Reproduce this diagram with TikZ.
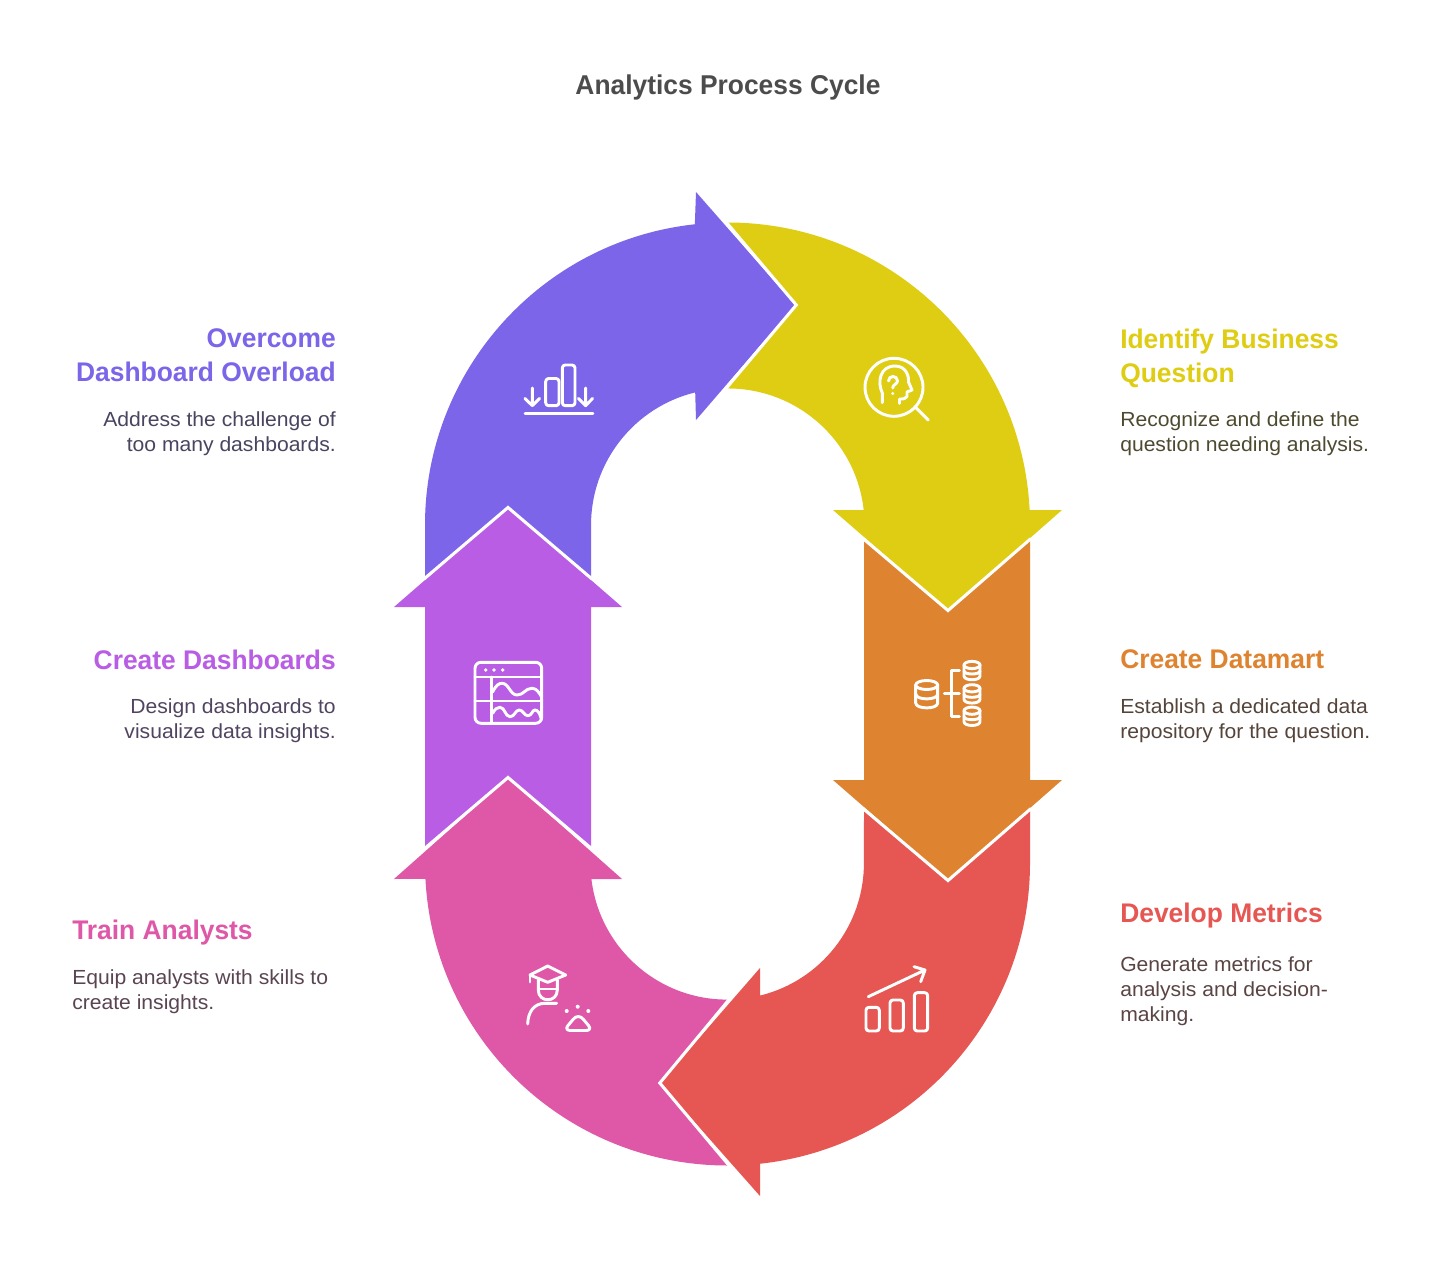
\documentclass[tikz,border=0pt]{standalone}
\usepackage{fontspec}
\setmainfont{Liberation Sans}
\newfontfamily\hfont[FakeStretch=0.98]{Liberation Sans}
\newfontfamily\tfont[FakeStretch=0.97]{Liberation Sans}
\newfontfamily\bfont[FakeStretch=1.035]{Liberation Sans}
\definecolor{cpurple}{HTML}{7C65E9}
\definecolor{cyellow}{HTML}{DFCD13}
\definecolor{corange}{HTML}{DE8330}
\definecolor{cred}{HTML}{E65652}
\definecolor{cpink}{HTML}{DF58A8}
\definecolor{cviolet}{HTML}{B95DE4}
\definecolor{tpurple}{HTML}{4A4460}
\definecolor{tyellow}{HTML}{4E4A30}
\definecolor{torange}{HTML}{55443A}
\definecolor{tred}{HTML}{5A4444}
\definecolor{tpink}{HTML}{5A4452}
\definecolor{tviolet}{HTML}{514460}
\tikzset{
 seg/.style={fill=#1,draw=none},
 gap/.style={draw=white,line width=2.3pt,line join=miter,line cap=butt},
 ico/.style={draw=white,line width=2.2pt,line cap=round,line join=round},
 dotm/.style={fill=white,draw=none},
 head/.style={font=\hfont\fontsize{20.2}{25.5}\selectfont\bfseries,inner sep=0pt,text=#1},
 body/.style={font=\bfont\fontsize{15.3}{18.9}\selectfont,inner sep=0pt,text=#1},
}
\begin{document}
\begin{tikzpicture}[x=0.75pt,y=-0.75pt]
\useasboundingbox[fill=white] (0,0) rectangle (1456,1287);
% segments
\path[seg=cviolet] (425,607)--(394,607)--(508,508)--(622,607)--(591,607)--(591,848)--(508,778)--(425,848)--cycle;
\path[seg=corange] (864,780)--(833,780)--(948,880)--(1062,780)--(1030,780)--(1030,538)--(948,610)--(864,538)--cycle;
\path[seg=cpurple] (425,578)--(425,525) arc[start angle=180,end angle=263.8,radius=302.5] -- (696,192)--(795,305)--(696,420)--(695.2,392.4)
  arc[start angle=256.3,end angle=180,radius=136.5] -- (591,578)--(508,508)--cycle;
\path[seg=cyellow] (726,222.5)--(727.5,222.5) arc[start angle=270,end angle=357.2,radius=302.5] -- (1062,510)--(948,610)--(833,510)--(863.7,510)
  arc[start angle=353.7,end angle=270,radius=136.5] -- (726,388.5)--(796,305)--cycle;
\path[seg=cred] (1030,810)--(1030,863) arc[start angle=0,end angle=83.8,radius=302.5] -- (760,1196)--(660,1083)--(760,968)--(760,995.6)
  arc[start angle=76.2,end angle=0,radius=136.5] --(864,810)--(948,880)--cycle;
\path[seg=cpink] (394,879)--(508,778)--(622,879)--(591.4,879)
  arc[start angle=173.3,end angle=90,radius=136.5] -- (730,999.5)--(660,1083)--(730,1165.5)--(727.5,1165.5)
  arc[start angle=90,end angle=177,radius=302.5] --cycle;
% white gaps between neighbouring segments
\draw[gap] (726,222)--(796.3,305)--(726,388.5);
\draw[gap] (1031,538.5)--(948,610.5)--(863,538.5);
\draw[gap] (1031,808.5)--(948,880.5)--(863,808.5);
\draw[gap] (729.5,999)--(659.8,1083)--(729.5,1166);
\draw[gap] (424,849)--(508,777.5)--(592,849);
\draw[gap] (424,579)--(508,507.5)--(592,579);
% purple icon
\draw[ico] (525,413.5)--(593,413.5);
\draw[ico] (532.3,388)--(532.3,405.7) (525,398.5)--(532.3,405.7)--(539.5,398.5);
\draw[ico] (585.7,388)--(585.7,405.7) (578.5,398.5)--(585.7,405.7)--(592.5,398.5);
\draw[ico,rounded corners=2.2pt] (545.7,378.5) rectangle (559,405.7);
\draw[ico,rounded corners=2.2pt] (562.3,365) rectangle (575,405.7);
% yellow icon
\draw[ico] (894,387.3) circle[radius=29];
\draw[ico] (915,406.7)--(928.3,420);
\draw[ico] (882.3,402.7)--(882.3,393) .. controls (877,382) and (880,366) .. (895,366) .. controls (906,366) and (909,376) .. (908.5,382)
  --(912,390)--(907,392)--(907,396.5) .. controls (906,399) and (903,399) .. (899.5,399)--(899.5,403.3);
\draw[ico] (888.5,381) .. controls (888.5,375) and (897.5,375) .. (897.5,381) .. controls (897.5,384) and (892.7,384.5) .. (892.7,388);
\fill[dotm] (892.7,393.5) circle[radius=1.7];
% violet icon
\draw[ico,rounded corners=4.5pt] (475,662.3) rectangle (541.7,723.3);
\draw[ico] (475,677)--(541.7,677) (475,701)--(541.7,701) (491.7,677)--(491.7,723.3);
\fill[dotm] (485.7,670) circle[radius=1.8] (494,670) circle[radius=1.8] (502.7,670) circle[radius=1.8];
\draw[ico] (492.7,692) .. controls (496,685) and (499,683.3) .. (502,683.3) .. controls (509,683.3) and (510,695) .. (517,695) .. controls (524,695) and (525,688.3) .. (532,688.3) .. controls (537,688.3) and (539,693) .. (541.7,697);
\draw[ico] (492.7,713.3) .. controls (495,709) and (497,707.3) .. (500,707.3) .. controls (505,707.3) and (505,716.7) .. (510,716.7) .. controls (515,716.7) and (515,710) .. (519.3,710) .. controls (523,710) and (524,715.7) .. (528,715.7) .. controls (532,715.7) and (532,710) .. (535,710) .. controls (538,710) and (540,714) .. (541,718);
% orange icon
\draw[ico] (915.7,685) arc[start angle=180,end angle=-180,x radius=11,y radius=4.5];
\draw[ico] (915.7,685)--(915.7,703) .. controls (915.7,709.5) and (937.7,709.5) .. (937.7,703)--(937.7,685);
\draw[ico] (915.7,694) .. controls (915.7,700.5) and (937.7,700.5) .. (937.7,694);
\draw[ico] (944.3,693.3)--(959.3,693.3);
\draw[ico] (959.3,670.7)--(951.7,670.7)--(951.7,716.7)--(959.3,716.7);
\foreach \yy in {665,688.3,710.7}{
 \draw[ico] (964,\yy) arc[start angle=180,end angle=-180,x radius=8,y radius=3.6];
 \draw[ico] (964,\yy)--(964,\yy+11) .. controls (964,\yy+16) and (980,\yy+16) .. (980,\yy+11)--(980,\yy);
 \draw[ico] (964,\yy+6) .. controls (964,\yy+10) and (980,\yy+10) .. (980,\yy+6);
}
% red icon
\draw[ico] (868.3,996.7)--(925,970) (914,966.7)--(925,970)--(920.7,981.7);
\draw[ico,rounded corners=2.2pt] (866,1007.3) rectangle (879.3,1031);
\draw[ico,rounded corners=2.2pt] (890,1000) rectangle (903.3,1031);
\draw[ico,rounded corners=2.2pt] (914.3,992.7) rectangle (927.7,1031);
% pink icon
\draw[ico] (530,975)--(547.7,966)--(565.7,975)--(547.7,982.3)--cycle;
\draw[ico] (530,975)--(530,982);
\draw[ico] (538.3,980)--(538.3,990) .. controls (538.3,1003) and (557.3,1003) .. (557.3,990)--(557.3,980);
\draw[ico] (538.3,989)--(557.3,989);
\draw[ico] (527.7,1024) .. controls (528,1012) and (534,1003.3) .. (545,1003.3)--(556.7,1003.3);
\fill[dotm] (566.7,1011) circle[radius=2] (577.7,1006.7) circle[radius=2] (588.3,1011) circle[radius=2];
\draw[ico] (573,1019.5) .. controls (576,1015.5) and (580.5,1015.5) .. (583.5,1019.5)--(588.5,1025.5) .. controls (591,1028.5) and (589.5,1030.5) .. (586,1030.5)--(570.5,1030.5) .. controls (567,1030.5) and (565.5,1028.5) .. (568,1025.5)--cycle;
% text
\node[inner sep=0pt,font=\tfont\fontsize{20.4}{25}\selectfont\bfseries,text=black!70] (title) at (728,87) {Analytics Process Cycle};
\node[head=cpurple,align=right,anchor=north east] (h1) at (336,328.5) {Overcome\\Dashboard Overload};
\node[body=tpurple,align=right,anchor=north east] (b1) at (336,411) {Address the challenge of\\too many dashboards.};
\node[head=cviolet,align=right,anchor=north east] (h2) at (336,649.5) {Create Dashboards};
\node[body=tviolet,align=right,anchor=north east] (b2) at (336,698) {Design dashboards to\\visualize data insights.};
\node[head=cpink,align=left,anchor=north west] (h3) at (72,920) {Train Analysts};
\node[body=tpink,align=left,anchor=north west] (b3) at (72,969) {Equip analysts with skills to\\create insights.};
\node[head=cyellow,align=left,anchor=north west] (h4) at (1120,328.5) {Identify Business\\Question};
\node[body=tyellow,align=left,anchor=north west] (b4) at (1120,411) {Recognize and define the\\question needing analysis.};
\node[head=corange,align=left,anchor=north west] (h5) at (1120,649.5) {Create Datamart};
\node[body=torange,align=left,anchor=north west] (b5) at (1120,698) {Establish a dedicated data\\repository for the question.};
\node[head=cred,align=left,anchor=north west] (h6) at (1120,903) {Develop Metrics};
\node[body=tred,align=left,anchor=north west] (b6) at (1120,956) {Generate metrics for\\analysis and decision-\\making.};
\end{tikzpicture}
\end{document}
